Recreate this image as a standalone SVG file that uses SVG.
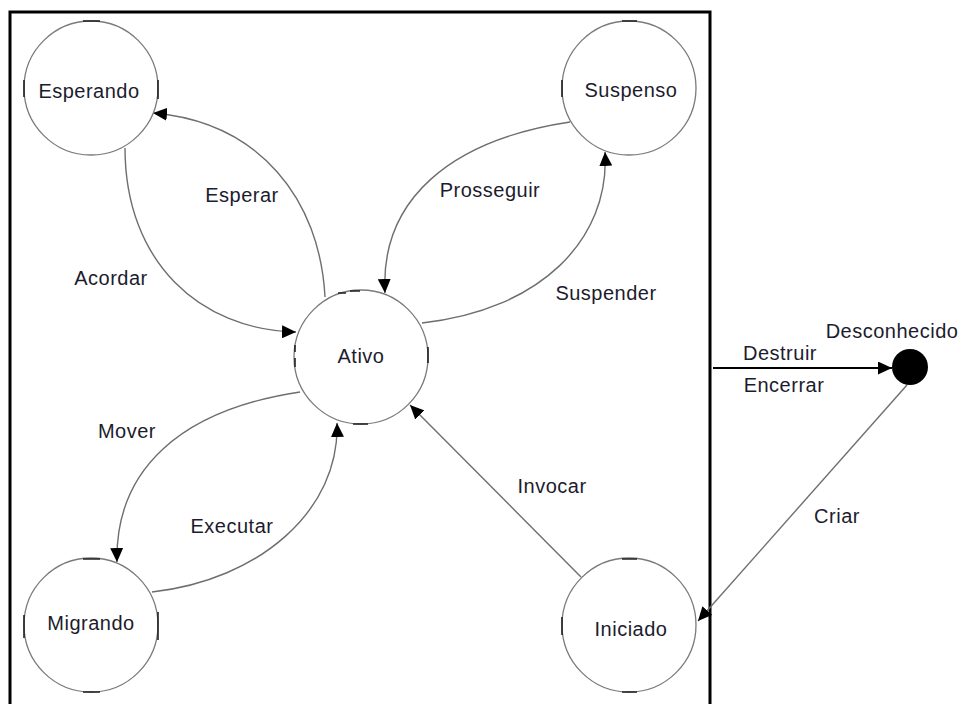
<svg xmlns="http://www.w3.org/2000/svg" width="962" height="704" viewBox="0 0 962 704">
<style>
.state{fill:#fff;stroke:#7a7a7a;stroke-width:1.3}
.tick{fill:none;stroke:#222;stroke-width:1.6}
.lbl{font-family:"Liberation Sans",Arial,sans-serif;font-size:20px;fill:#1c1c2e;text-anchor:middle;letter-spacing:0.5px}
.conn{fill:none;stroke:#6e6e6e;stroke-width:1.4}
.dark{fill:none;stroke:#000;stroke-width:2}
</style>
<defs>
<marker id="arr" markerUnits="userSpaceOnUse" markerWidth="15" markerHeight="13" refX="14" refY="6.5" orient="auto">
<path d="M0,0 L14,6.5 L0,13 z" fill="#000"/>
</marker>
</defs>
<rect width="962" height="704" fill="#fff"/>
<path d="M10,710 V12 H710 V710" fill="none" stroke="#000" stroke-width="3"/>
<g id="connectors">
<path class="conn" d="M325,297 C320,200 260,122 153,113" marker-end="url(#arr)"/>
<path class="conn" d="M125,148 C125,262 200,330 296,332" marker-end="url(#arr)"/>
<path class="conn" d="M570,122 C450,140 380,200 385,293" marker-end="url(#arr)"/>
<path class="conn" d="M422,323 C540,310 610,240 605,152" marker-end="url(#arr)"/>
<path class="conn" d="M300,392 C180,410 115,470 117,562" marker-end="url(#arr)"/>
<path class="conn" d="M152,592 C260,580 340,510 337,423" marker-end="url(#arr)"/>
<path class="conn" d="M581,577 L410,405" marker-end="url(#arr)"/>
<path class="dark" d="M713,368 L892,368" marker-end="url(#arr)"/>
<path class="conn" d="M907,385 L698,621" marker-end="url(#arr)"/>
<text class="lbl" x="242" y="202">Esperar</text>
<text class="lbl" x="111" y="285">Acordar</text>
<text class="lbl" x="490" y="197">Prosseguir</text>
<text class="lbl" x="606" y="300">Suspender</text>
<text class="lbl" x="127" y="438">Mover</text>
<text class="lbl" x="232" y="533">Executar</text>
<text class="lbl" x="552" y="493">Invocar</text>
<text class="lbl" x="837" y="523">Criar</text>
<text class="lbl" x="780" y="360">Destruir</text>
<text class="lbl" x="784" y="392">Encerrar</text>
</g>
<g id="esperando"><circle class="state" cx="91" cy="88" r="67"/><path class="tick" d="M83,21 H100 M24,80 V97 M158,80 V99"/><text class="lbl" x="89" y="98">Esperando</text></g>
<g id="suspenso"><circle class="state" cx="629" cy="88" r="67"/><path class="tick" d="M622,21 H637 M562,80 V97"/><text class="lbl" x="631" y="97">Suspenso</text></g>
<g id="ativo"><circle class="state" cx="361" cy="357" r="67"/><path class="tick" d="M338,293 H346 M350,291 H360 M295,345 V352 M295,358 V367 M353,424 H368 M428,347 V363"/><text class="lbl" x="361" y="363">Ativo</text></g>
<g id="migrando"><circle class="state" cx="91" cy="625" r="67"/><path class="tick" d="M83,559 H100 M24,615 V638 M158,612 V640 M83,692 H100"/><text class="lbl" x="91" y="630">Migrando</text></g>
<g id="iniciado"><circle class="state" cx="629" cy="625" r="67"/><path class="tick" d="M622,559 H637 M562,617 V635 M622,692 H637"/><text class="lbl" x="631" y="636">Iniciado</text></g>
<g id="desconhecido"><circle cx="910" cy="367" r="18" fill="#000"/><text class="lbl" x="892" y="338">Desconhecido</text></g>
</svg>
